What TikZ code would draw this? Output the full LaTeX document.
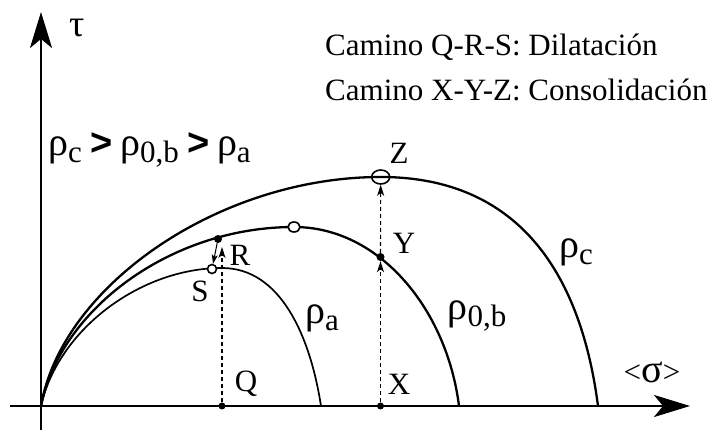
\documentclass[tikz,border=0pt]{standalone}
\usepackage{fontspec}
\setmainfont{Liberation Serif}
\newfontfamily\gtfont{Liberation Sans}
\usetikzlibrary{arrows.meta,shapes.geometric}
\newcommand{\rhosym}{{\fontsize{40}{40}\selectfont ρ}}
\newcommand{\rholab}[1]{\rhosym\raisebox{-7pt}{#1}}
\newcommand{\gtsym}{{\gtfont\bfseries\fontsize{38}{38}\selectfont\hspace{9pt}>\hspace{7pt}}}
\begin{document}
\begin{tikzpicture}[x=1pt,y=-1pt,
  curve/.style={line width=2.3pt},
  thincurve/.style={line width=1.7pt},
  axis/.style={line width=2.4pt,-{Stealth[length=36pt,width=22pt,inset=9pt]}},
  guide/.style={line width=1.1pt,dash pattern=on 4pt off 3pt,-{Stealth[length=11pt,width=7pt,inset=3pt]}},
  smallarrow/.style={line width=1pt,-{Stealth[length=9pt,width=6pt,inset=2pt]}},
  dot/.style={circle,fill,inner sep=0pt,minimum size=7pt},
  ring/.style={ellipse,draw,line width=1.6pt,inner sep=0pt},
  lab/.style={inner sep=0pt,font=\fontsize{31}{31}\selectfont}]
\useasboundingbox (0,0) rectangle (713,430);

% axes
\coordinate (xa0) at (10,406);
\coordinate (xa1) at (690,406);
\coordinate (ya0) at (41,430);
\coordinate (ya1) at (41,12);
\draw[axis] (xa0) -- (xa1);
\draw[axis] (ya0) -- (ya1);

% curves
\coordinate (O) at (41,406);
\draw[thincurve] (O) .. controls (58,330) and (140,268) .. (222,268)
  .. controls (280,268) and (310,335) .. (321,406);
\draw[curve] (O) .. controls (60,310) and (170,227) .. (294,227)
  .. controls (380,227) and (447,310) .. (459,406);
\draw[curve] (O) .. controls (62,285) and (220,177) .. (380.7,177)
  .. controls (530,177) and (583,290) .. (598,406);

% points
\node[dot] (Q) at (222,406) {};
\node[dot] (X) at (380.5,406) {};
\node[dot,minimum size=8pt] (R) at (218,239) {};
\node[dot,minimum size=8pt] (Y) at (380.5,257) {};
\node[ring,minimum width=9pt,minimum height=9pt,fill=white] (S) at (212,269) {};
\node[ring,minimum width=12pt,minimum height=10pt,fill=white] (P) at (294,227) {};
\node[ring,minimum width=18pt,minimum height=14pt] (Z) at (380.7,177) {};
\coordinate (Rtip) at (222,247);

% paths
\draw[guide] (Q) -- (Rtip);
\draw[smallarrow] (R) -- (S);
\draw[guide] (X) -- (Y);
\draw[guide] (Y) -- (Z);

% labels
\node[lab] (lQ) at (246,384) {Q};
\node[lab] (lX) at (399,384) {X};
\node[lab] (lR) at (240,255) {R};
\node[lab] (lS) at (200,291) {S};
\node[lab] (lY) at (404,243) {Y};
\node[lab] (lZ) at (399,153) {Z};
\node[lab] (la) at (322,318) {\rholab{a}};
\node[lab] (lb) at (477,316) {\rholab{0,b}};
\node[lab] (lc) at (576,252) {\rholab{c}};
\node[lab] (tau) at (77,28) {{\fontsize{38}{38}\selectfont τ}};
\node[lab] (sig) at (652,372) {<{\fontsize{40}{40}\selectfont σ}>};
\node[lab,anchor=west] (order) at (48,150) {\rholab{c}\gtsym\rholab{0,b}\gtsym\rholab{a}};
\node[lab,anchor=base west] (t1) at (325,56) {Camino Q-R-S: Dilatación};
\node[lab,anchor=base west] (t2) at (325,101) {Camino X-Y-Z: Consolidación};
\end{tikzpicture}
\end{document}
